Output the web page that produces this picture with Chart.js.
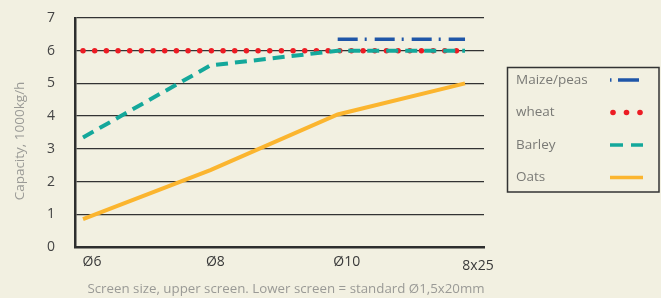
<!DOCTYPE html>
<html>
<head>
<meta charset="utf-8">
<script src="https://cdn.jsdelivr.net/npm/chart.js@4/dist/chart.umd.min.js"></script>
<style>
  html, body { margin: 0; padding: 0; background: #f2f0e1; }
  #wrap { width: 661px; height: 298px; position: relative; }
</style>
</head>
<body>
<div id="wrap"><canvas id="myChart" width="661" height="298"></canvas></div>
<script>
'use strict';

// categories along the bottom (screen sizes)
var screens = ['Ø6', 'Ø8', 'Ø10', '8x25'];
var yTicks = [0, 1, 2, 3, 4, 5, 6, 7];

// capacity, 1000 kg/h
var maize  = [null, null, 6.35, 6.35];
var wheat  = [6, 6, 6, 6];
var barley = [3.35, 5.55, 6, 6];
var oats   = [0.85, 2.35, 4.05, 5];

var yTitle = 'Capacity, 1000kg/h';
var xTitle = 'Screen size, upper screen. Lower screen = standard Ø1,5x20mm';

function pts(arr) {
    return arr.map(function (v, i) { return { x: i, y: v }; });
}

var FONT = '"Open Sans", sans-serif';

// axis texts + legend box, drawn on top
var extras = {
    id: 'extras',
    afterDraw: function (chart) {
        var c = chart.ctx;
        var xs = chart.scales.x;
        c.save();
        // x labels, sit a little right of the points
        var dx = [9, 5, 9, 13];
        var dy = [262, 262, 262, 266];
        c.fillStyle = '#3a3a3a';
        c.font = '14px ' + FONT;
        c.textAlign = 'center';
        c.textBaseline = 'middle';
        screens.forEach(function (s, i) {
            c.fillText(s, xs.getPixelForValue(i) + dx[i], dy[i]);
        });
        // x title
        c.fillStyle = '#9a9a96';
        c.font = '13.3px ' + FONT;
        c.fillText(xTitle, 286, 289);
        // y title
        c.font = '13.5px ' + FONT;
        c.translate(20, 141);
        c.rotate(-Math.PI / 2);
        c.fillText(yTitle, 0, 0);
        c.restore();

        // legend
        c.save();
        c.strokeStyle = '#333';
        c.lineWidth = 1.5;
        c.strokeRect(507.5, 67.5, 151.5, 124.5);
        var rows = [80, 112.5, 145, 177.5];
        c.font = '13.5px ' + FONT;
        c.fillStyle = '#7a7a76';
        c.textBaseline = 'middle';
        c.textAlign = 'left';
        chart.data.datasets.forEach(function (ds, i) {
            c.fillText(ds.label, 516, rows[i]);
        });
        // samples
        var d = chart.data.datasets;
        c.lineCap = 'butt';
        c.strokeStyle = d[0].borderColor;
        c.lineWidth = 3.5;
        c.beginPath(); c.moveTo(610, rows[0]); c.lineTo(611.5, rows[0]); c.stroke();
        c.beginPath(); c.moveTo(618, rows[0]); c.lineTo(639, rows[0]); c.stroke();
        c.fillStyle = d[1].borderColor;
        [613, 626.5, 640].forEach(function (x) {
            c.beginPath(); c.arc(x, rows[1], 2.8, 0, Math.PI * 2); c.fill();
        });
        c.strokeStyle = d[2].borderColor;
        c.beginPath(); c.moveTo(610, rows[2]); c.lineTo(623, rows[2]); c.stroke();
        c.beginPath(); c.moveTo(631, rows[2]); c.lineTo(643, rows[2]); c.stroke();
        c.strokeStyle = d[3].borderColor;
        c.beginPath(); c.moveTo(610, rows[3]); c.lineTo(643, rows[3]); c.stroke();
        c.restore();
    }
};

const ctx = document.getElementById('myChart');

new Chart(ctx, {
    type: 'line',
    data: {
        datasets: [{
            label: 'Maize/peas',
            data: pts(maize),
            borderColor: '#1f56a8',
            borderWidth: 3.5,
            borderDash: [20, 7, 2, 8],
            order: 0
        }, {
            label: 'wheat',
            data: pts(wheat),
            borderColor: '#ec1c24',
            borderWidth: 5.5,
            borderDash: [0, 11.67],
            borderCapStyle: 'round',
            order: 2
        }, {
            label: 'Barley',
            data: pts(barley),
            borderColor: '#14a89b',
            borderWidth: 4,
            borderDash: [12, 7],
            order: 1
        }, {
            label: 'Oats',
            data: pts(oats),
            borderColor: '#fbb52f',
            borderWidth: 4,
            order: 3
        }]
    },
    options: {
        responsive: false,
        animation: false,
        events: [],
        spanGaps: false,
        elements: { point: { radius: 0 }, line: { tension: 0 } },
        layout: { padding: { left: 0, top: 18, right: 177, bottom: 0 } },
        plugins: { legend: { display: false }, tooltip: { enabled: false } },
        scales: {
            x: {
                type: 'linear',
                min: -0.063,
                max: 3.149,
                grid: { display: false, drawTicks: false },
                border: { display: true, color: '#2e2e2e', width: 2.5 },
                ticks: { display: false },
                afterFit: function (s) { s.height = 51; s.paddingLeft = 0; s.paddingRight = 0; }
            },
            y: {
                min: 0,
                max: 7,
                afterBuildTicks: function (s) {
                    s.ticks = yTicks.map(function (v) { return { value: v }; });
                },
                grid: {
                    color: function (c) { return c.tick.value === 0 ? 'rgba(0,0,0,0)' : '#333'; },
                    lineWidth: 1.3,
                    drawTicks: false
                },
                border: { display: true, color: '#2e2e2e', width: 2.5 },
                ticks: {
                    color: '#444',
                    font: { size: 14, family: FONT },
                    padding: 20
                },
                afterFit: function (s) { s.width = 75; s.paddingTop = 0; s.paddingBottom = 0; }
            }
        }
    },
    plugins: [extras]
});
</script>
</body>
</html>
